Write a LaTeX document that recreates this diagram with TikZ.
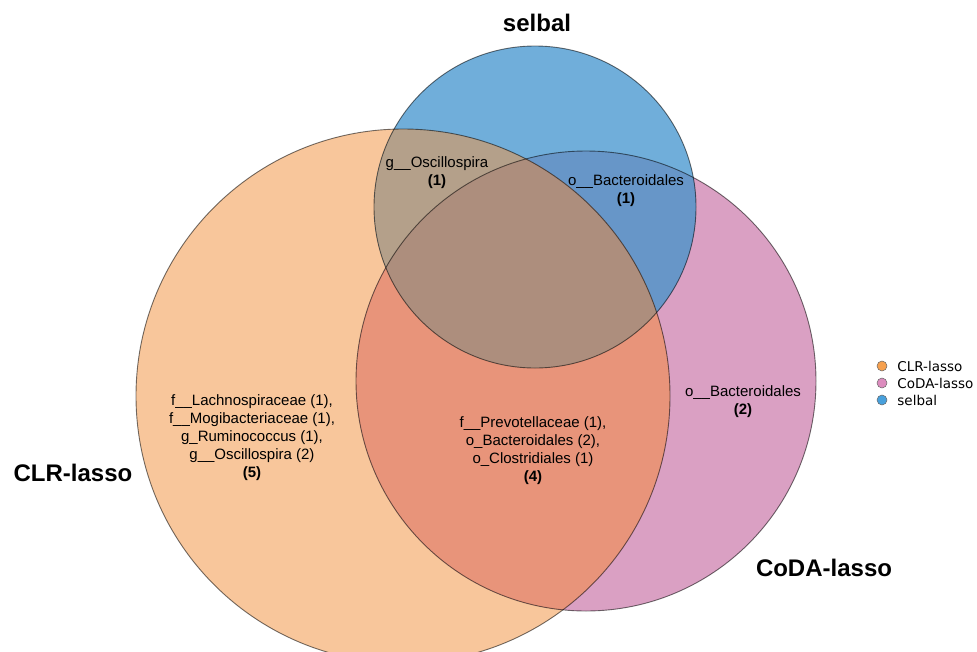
\documentclass[tikz,border=0pt]{standalone}
\usepackage{fontspec}
\setmainfont{Liberation Sans}
\newfontfamily\legendfont{DejaVu Sans}
\usepackage{tikz}
\usetikzlibrary{positioning}

\definecolor{clrfill}{RGB}{248,198,155}
\definecolor{codafill}{RGB}{218,160,195}
\definecolor{selbalfill}{RGB}{112,174,218}
\definecolor{clrcoda}{RGB}{232,148,122}
\definecolor{clrselbal}{RGB}{180,160,138}
\definecolor{codaselbal}{RGB}{103,150,200}
\definecolor{allthree}{RGB}{173,142,125}
\definecolor{clrdot}{RGB}{246,160,78}
\definecolor{codadot}{RGB}{220,140,190}
\definecolor{selbaldot}{RGB}{72,160,220}

\begin{document}
\begin{tikzpicture}[x=1pt, y=-1pt,
  settitle/.style={font=\fontsize{24}{28}\selectfont\bfseries},
  region/.style={align=center, font=\fontsize{15}{18}\selectfont},
  rim/.style={draw=black, draw opacity=0.55, line width=0.9pt},
  legdot/.style={circle, draw=black!60, line width=0.5pt, minimum size=10pt, inner sep=0pt},
  legtext/.style={font=\legendfont\fontsize{13.5}{16}\selectfont, inner sep=0pt}]
  \useasboundingbox (0,0) rectangle (977,651);
  \clip (0,0) rectangle (977,651);

  % Set fills
  \fill[clrfill] (403,396) circle[radius=267pt];
  \fill[codafill] (586,381) circle[radius=230pt];
  \fill[selbalfill] (535,207) circle[radius=161pt];

  % Overlaps
  \begin{scope}
    \clip (586,381) circle[radius=230pt];
    \fill[codaselbal] (535,207) circle[radius=161pt];
  \end{scope}
  \begin{scope}
    \clip (403,396) circle[radius=267pt];
    \fill[clrcoda] (586,381) circle[radius=230pt];
    \fill[clrselbal] (535,207) circle[radius=161pt];
    \clip (586,381) circle[radius=230pt];
    \fill[allthree] (535,207) circle[radius=161pt];
  \end{scope}

  % Outlines
  \draw[rim] (403,396) circle[radius=267pt];
  \draw[rim] (586,381) circle[radius=230pt];
  \draw[rim] (535,207) circle[radius=161pt];

  % Set names
  \node[settitle] (selbaltitle) at (537,23) {selbal};
  \node[settitle] (clrtitle) at (73,473) {CLR-lasso};
  \node[settitle] (codatitle) at (824,568) {CoDA-lasso};

  % Region labels
  \node[region] (oscil) at (437,173) {g\_\_Oscillospira\\\textbf{(1)}};
  \node[region] (bactsel) at (626,191) {o\_\_Bacteroidales\\\textbf{(1)}};
  \node[region] (clronly) at (252,438) {f\_\_Lachnospiraceae (1),\\f\_\_Mogibacteriaceae (1),\\g\_Ruminococcus (1),\\g\_\_Oscillospira (2)\\\textbf{(5)}};
  \node[region] (core) at (533,451) {f\_\_Prevotellaceae (1),\\o\_Bacteroidales (2),\\o\_Clostridiales (1)\\\textbf{(4)}};
  \node[region] (codaonly) at (743,402) {o\_\_Bacteroidales\\\textbf{(2)}};

  % Legend
  \foreach \name/\col [count=\i] in {CLR-lasso/clrdot, CoDA-lasso/codadot, selbal/selbaldot} {
    \node[legdot, fill=\col] (dot\i) at (882,349+17*\i) {};
    \node[legtext, right=10pt of dot\i] (leg\i) {\name};
  }
\end{tikzpicture}
\end{document}
